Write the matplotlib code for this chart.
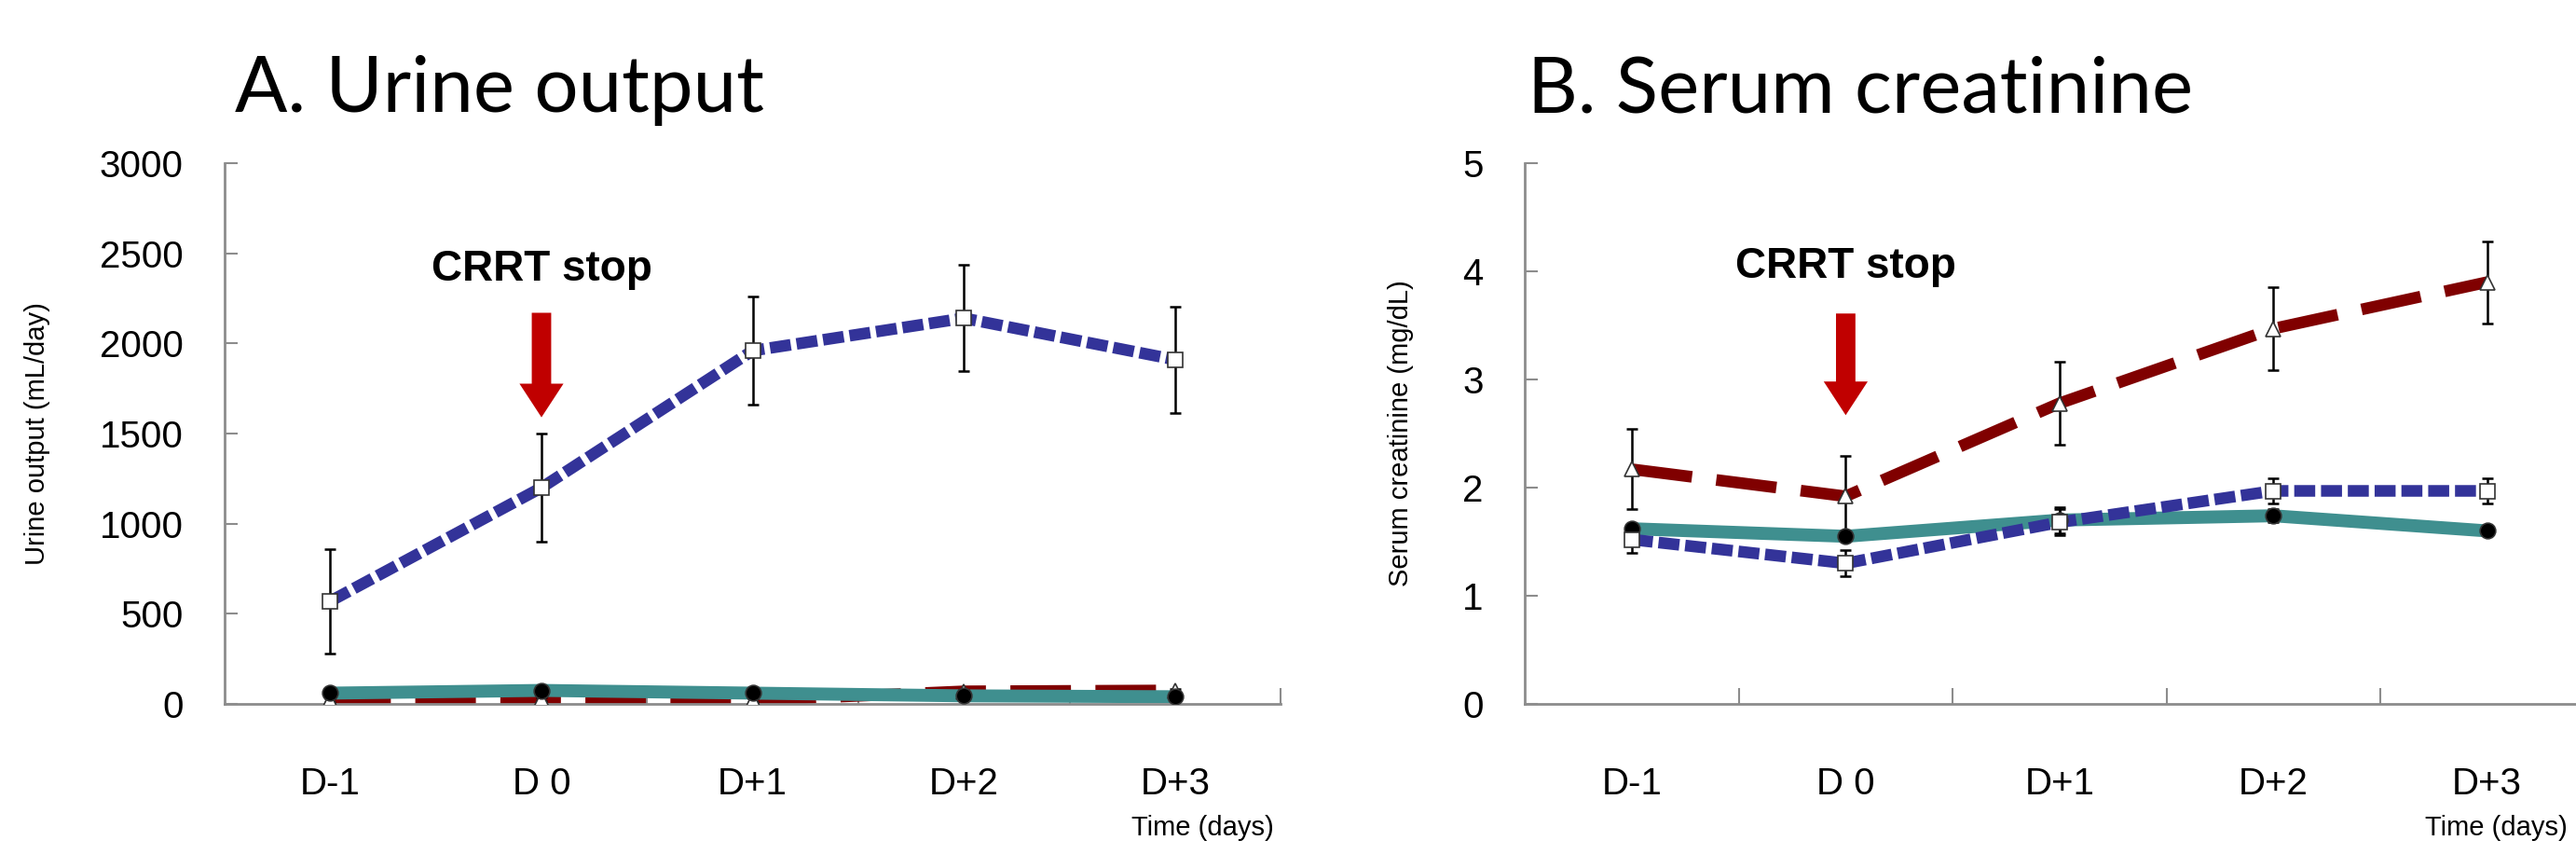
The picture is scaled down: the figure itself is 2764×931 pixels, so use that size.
import matplotlib
matplotlib.use('Agg')
import matplotlib.pyplot as plt
from matplotlib import font_manager
import numpy as np

# x categories
days = ['D-1', 'D 0', 'D+1', 'D+2', 'D+3']

# A. urine output (mL/day)
uo_blue = [570, 1200, 1960, 2140, 1910]
uo_blue_err = [290, 300, 300, 295, 295]
uo_teal = [60, 75, 60, 45, 40]
uo_teal_err = [15, 20, 15, 15, 15]
uo_red = [20, 25, 20, 70, 75]
uo_red_err = [10, 10, 10, 10, 10]

# B. serum creatinine (mg/dL)
sc_red = [2.17, 1.92, 2.78, 3.47, 3.90]
sc_red_err = [0.37, 0.37, 0.38, 0.38, 0.38]
sc_blue = [1.52, 1.30, 1.68, 1.97, 1.97]
sc_blue_err = [0.12, 0.12, 0.12, 0.12, 0.12]
sc_teal = [1.62, 1.55, 1.70, 1.74, 1.60]
sc_teal_err = [0.03, 0.03, 0.12, 0.06, 0.03]

BLUE = '#333399'
TEAL = '#3f8f8f'
DRED = '#800000'
ARROW = '#c00000'
AXCOL = '#8c8c8c'

names = {f.name for f in font_manager.fontManager.ttflist}
NARROW = 'Liberation Sans Narrow' if 'Liberation Sans Narrow' in names else 'Liberation Sans'
TITLE_FONT = 'Lato' if 'Lato' in names else 'DejaVu Sans'

plt.rcParams['font.family'] = 'Liberation Sans'

fig = plt.figure(figsize=(27.64, 9.31), dpi=100)
axA = fig.add_axes([0.0872, 0.189, 0.410, 0.623])
axB = fig.add_axes([0.592, 0.189, 0.415, 0.623])


def series(ax, x, y, err, color, dashes, marker, mfc, ms, lw=9):
    ax.plot(x, y, color=color, lw=lw, dashes=dashes, solid_capstyle='butt',
            dash_capstyle='butt', zorder=2)
    ax.errorbar(x, y, yerr=err, fmt='none', ecolor='black', elinewidth=1.8,
                capsize=4, capthick=1.8, zorder=3)
    ax.plot(x, y, ls='none', marker=marker, ms=ms, mfc=mfc, mec='#333333',
            mew=1.2, zorder=4)


def style(ax, ymax, ystep, ylabel, title, title_x, time_x):
    x = np.arange(len(days))
    ax.set_xlim(-0.5, len(days) - 0.5)
    ax.set_ylim(0, ymax)
    ax.set_yticks(np.arange(0, ymax + ystep / 2, ystep))
    ax.set_xticks(np.arange(0.5, len(days), 1.0))
    ax.set_xticklabels([])
    ax.set_xticks(x, minor=True)
    ax.set_xticklabels(days, minor=True)
    ax.tick_params(axis='x', which='minor', length=0, pad=48, labelsize=29)
    ax.tick_params(axis='x', which='major', direction='in', length=12,
                   width=1.5, color=AXCOL)
    ax.tick_params(axis='y', direction='in', length=10, width=1.5,
                   color=AXCOL, pad=32, labelsize=29)
    for lab in ax.get_xticklabels(minor=True) + ax.get_yticklabels():
        lab.set_family(NARROW)
    for s in ('top', 'right'):
        ax.spines[s].set_visible(False)
    for s in ('left', 'bottom'):
        ax.spines[s].set_color(AXCOL)
        ax.spines[s].set_linewidth(2)
    ax.set_ylabel(ylabel, fontsize=21, labelpad=38)
    ax.text(time_x, -0.23, 'Time (days)', transform=ax.transAxes, ha='right',
            va='center', fontsize=21, family=NARROW)
    fig.text(title_x, 0.871, title, fontsize=60, family=TITLE_FONT,
             ha='left', va='baseline')


x = np.arange(len(days))

# panel A
series(axA, x, uo_red, uo_red_err, DRED, (5.2, 2.1), '^', 'white', 11)
series(axA, x, uo_teal, uo_teal_err, TEAL, (None, None), 'o', 'black', 12, lw=10)
series(axA, x, uo_blue, uo_blue_err, BLUE, (1.8, 0.5), 's', 'white', 11)
style(axA, 3000, 500, 'Urine output (mL/day)', 'A. Urine output', 0.091, 0.993)
axA.annotate('', xy=(1, 1590), xytext=(1, 2170),
             arrowprops=dict(facecolor=ARROW, edgecolor='none', width=15,
                             headwidth=34, headlength=26, shrink=0))
axA.text(1, 2410, 'CRRT stop', ha='center', va='center', fontsize=33,
         fontweight='bold')

# panel B
series(axB, x, sc_teal, sc_teal_err, TEAL, (None, None), 'o', 'black', 12, lw=10)
series(axB, x, sc_blue, sc_blue_err, BLUE, (1.8, 0.5), 's', 'white', 11)
series(axB, x, sc_red, sc_red_err, DRED, (5.2, 2.1), '^', 'white', 11)
style(axB, 5, 1, 'Serum creatinine (mg/dL)', 'B. Serum creatinine', 0.593, 0.975)
axB.annotate('', xy=(1, 2.67), xytext=(1, 3.61),
             arrowprops=dict(facecolor=ARROW, edgecolor='none', width=15,
                             headwidth=34, headlength=26, shrink=0))
axB.text(1, 4.04, 'CRRT stop', ha='center', va='center', fontsize=33,
         fontweight='bold')

fig.savefig('out.png', dpi=100)
